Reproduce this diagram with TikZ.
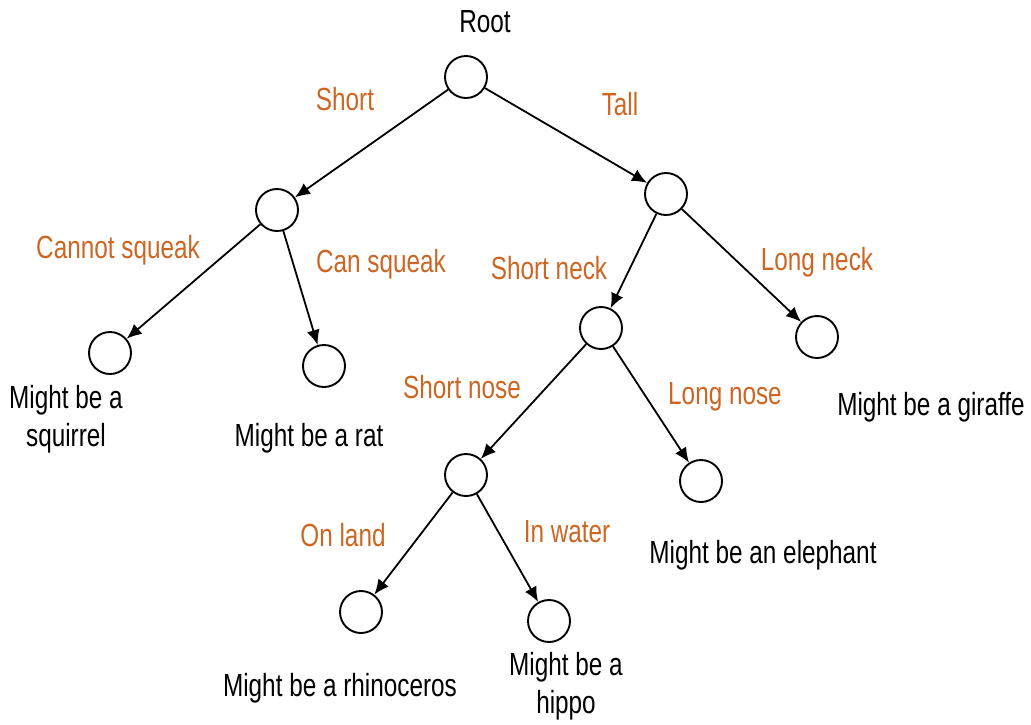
\documentclass[tikz,border=0pt]{standalone}
\usepackage{fontspec}
\setmainfont[FakeStretch=0.76]{Liberation Sans}
\usetikzlibrary{arrows.meta}
\definecolor{lbl}{RGB}{204,102,34}
\begin{document}
\begin{tikzpicture}[x=1pt,y=-1pt,
  every node/.style={font=\fontsize{32}{38}\selectfont},
  st/.style={circle,draw,line width=1.9pt,minimum size=42pt,inner sep=0pt},
  edge/.style={line width=1.8pt,-{Latex[length=15pt,width=13pt]}},
  lab/.style={text=lbl,inner sep=0pt},
  txt/.style={text=black,inner sep=0pt,align=center}]
\useasboundingbox (0,0) rectangle (1031,724);
\node[st] (root) at (466,77) {};
\node[st] (s1) at (277,210) {};
\node[st] (t1) at (666,194) {};
\node[st] (sq) at (110,353) {};
\node[st] (rat) at (324,366) {};
\node[st] (sn) at (601,328) {};
\node[st] (gir) at (817,337) {};
\node[st] (sno) at (466,475) {};
\node[st] (ele) at (701,481) {};
\node[st] (rhi) at (361,612) {};
\node[st] (hip) at (549,621) {};
\draw[edge] (root) -- (s1);
\draw[edge] (root) -- (t1);
\draw[edge] (s1) -- (sq);
\draw[edge] (s1) -- (rat);
\draw[edge] (t1) -- (sn);
\draw[edge] (t1) -- (gir);
\draw[edge] (sn) -- (sno);
\draw[edge] (sn) -- (ele);
\draw[edge] (sno) -- (rhi);
\draw[edge] (sno) -- (hip);
\node[txt] (troot) at (485,22) {Root};
\node[lab] (lshort) at (345,99) {Short};
\node[lab] (ltall) at (620,104) {Tall};
\node[lab] (lcs) at (118,250) {Cannot squeak};
\node[lab] (lcan) at (381,264) {Can squeak};
\node[lab] (lsn) at (549,268) {Short neck};
\node[lab] (lln) at (817,262) {Long neck};
\node[lab] (lsno) at (462,387) {Short nose};
\node[lab] (llno) at (725,397) {Long nose};
\node[lab] (lland) at (343,535) {On land};
\node[lab] (lwat) at (567,532) {In water};
\node[txt] (tsq) at (66,419) {Might be a\\squirrel};
\node[txt] (trat) at (309,438) {Might be a rat};
\node[txt] (tgir) at (931,407) {Might be a giraffe};
\node[txt] (tele) at (763,555) {Might be an elephant};
\node[txt] (trhi) at (340,688) {Might be a rhinoceros};
\node[txt] (thip) at (566,686) {Might be a\\hippo};
\end{tikzpicture}
\end{document}
